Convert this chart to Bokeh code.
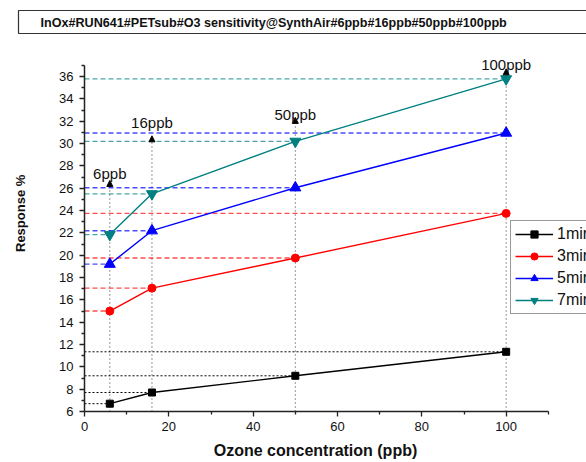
from bokeh.plotting import figure
from bokeh.models import (FixedTicker, Legend, LegendItem, Label, Arrow, NormalHead,
                          ColumnDataSource, Title)
from bokeh.embed import file_html
from bokeh.resources import INLINE

# Ozone concentrations (ppb) and sensor response (%) per exposure time
conc = [6, 16, 50, 100]
resp_1min = [6.7, 7.7, 9.2, 11.35]
resp_3min = [15.0, 17.05, 19.75, 23.75]
resp_5min = [19.2, 22.2, 26.05, 30.95]
resp_7min = [21.85, 25.5, 30.2, 35.8]

series_names = ["1min", "3min", "5min", "7min"]
series_colors = ["#000000", "#ff0000", "#0000ff", "#008080"]

# concentration callouts: arrow tip height and text baseline height
callout_text = ["6ppb", "16ppb", "50ppb", "100ppb"]
callout_tip = [26.7, 30.7, 32.35, 36.7]
callout_text_y = [27.3, 31.9, 32.65, 37.1]

title_text = "InOx#RUN641#PETsub#O3 sensitivity@SynthAir#6ppb#16ppb#50ppb#100ppb"
x_title = "Ozone concentration (ppb)"
y_title = "Response %"

FONT = "Liberation Sans"
NBSP = "\u00a0"

# the frame runs to the right and top edges so that the legend and the
# callouts are not clipped; the axes themselves stop at x=110 and y=37
p = figure(frame_width=502, frame_height=371, x_range=(0, 119.05),
           y_range=(6, 39.24), output_backend="svg", toolbar_location=None,
           min_border_left=84, min_border_right=0, min_border_top=40,
           min_border_bottom=51)
p.outline_line_color = None
p.grid.visible = False
p.background_fill_color = "white"
p.border_fill_color = "white"

p.title = Title(text=title_text, align="left", offset=-66,
                text_font=FONT, text_font_style="bold", text_font_size="12.6px",
                text_color="#111111", border_line_color="#333333",
                border_line_width=1.2, standoff=14,
                padding=dict(left=22, right=200, top=5, bottom=4))

# axes
p.xaxis.ticker = FixedTicker(ticks=[0, 20, 40, 60, 80, 100],
                             minor_ticks=[10, 30, 50, 70, 90, 110])
p.yaxis.ticker = FixedTicker(ticks=list(range(6, 37, 2)),
                             minor_ticks=list(range(7, 38, 2)))
p.xaxis.bounds = (0, 110)
p.yaxis.bounds = (6, 37)
for ax in (p.xaxis, p.yaxis):
    ax.axis_line_width = 1.5
    ax.axis_line_color = "#222222"
    ax.major_tick_line_color = "#222222"
    ax.minor_tick_line_color = "#222222"
    ax.major_tick_line_width = 1.3
    ax.minor_tick_line_width = 1.3
    ax.major_tick_out = 5
    ax.major_tick_in = 0
    ax.minor_tick_out = 3
    ax.minor_tick_in = 0
    ax.major_label_text_font = FONT
    ax.major_label_text_font_size = "13px"
    ax.major_label_text_color = "#111111"
    ax.axis_label_text_font = FONT
    ax.axis_label_text_font_style = "bold"
    ax.axis_label_text_color = "#111111"
# axis titles are centred under/beside the drawn axis span (0-110, 6-37)
p.xaxis.axis_label = x_title + NBSP * 9
p.yaxis.axis_label = NBSP * 7 + y_title
p.xaxis.axis_label_text_font_size = "16px"
p.yaxis.axis_label_text_font_size = "13px"
p.xaxis.major_label_standoff = 5
p.yaxis.major_label_standoff = 6
p.xaxis.axis_label_standoff = 8
p.yaxis.axis_label_standoff = 28

# vertical dotted guides from the x axis up to each callout arrow
for x, tip in zip(conc, callout_tip):
    p.line([x, x], [6, tip - 0.5], line_color="#333333", line_width=1,
           line_dash="1 3")

all_series = [resp_1min, resp_3min, resp_5min, resp_7min]

# horizontal guides from the y axis to each measured point
for vals, col in zip(all_series, series_colors):
    for x, y in zip(conc, vals):
        if col == "#000000":
            p.line([0, x], [y, y], line_color="#000000", line_width=1,
                   line_dash="2 2")
        else:
            p.line([0, x], [y, y], line_color=col, line_width=1.4,
                   line_dash="5 3", line_alpha=0.7)

markers = ["square", "circle", "triangle", "inverted_triangle"]
sizes = [7, 8, 11, 11]
items = []
for name, vals, col, mk, sz in zip(series_names, all_series, series_colors,
                                    markers, sizes):
    src = ColumnDataSource(dict(x=conc, y=vals))
    ln = p.line("x", "y", source=src, line_color=col, line_width=1.4)
    sc = p.scatter("x", "y", source=src, marker=mk, size=sz, fill_color=col,
                   line_color=col)
    items.append(LegendItem(label=name, renderers=[ln, sc]))

# callout arrows and labels
for x, tip, ty, txt in zip(conc, callout_tip, callout_text_y, callout_text):
    p.add_layout(Arrow(end=NormalHead(size=6, fill_color="black",
                                      line_color="black", line_width=1),
                       x_start=x, y_start=tip - 0.45, x_end=x, y_end=tip,
                       line_color="black", line_width=1))
    p.add_layout(Label(x=x, y=ty, text=txt, text_align="center",
                       text_baseline="alphabetic", text_font=FONT,
                       text_font_size="15px", text_color="#111111"))

legend = Legend(items=items, location=(426, 97), border_line_color="#333333",
                border_line_width=1.2, label_text_font=FONT,
                label_text_font_size="16px", label_text_color="#111111",
                glyph_width=38, glyph_height=18, spacing=4, padding=4,
                margin=0, label_standoff=4, background_fill_alpha=1)
p.add_layout(legend, "center")

open("out.html", "w").write(file_html(p, INLINE))
